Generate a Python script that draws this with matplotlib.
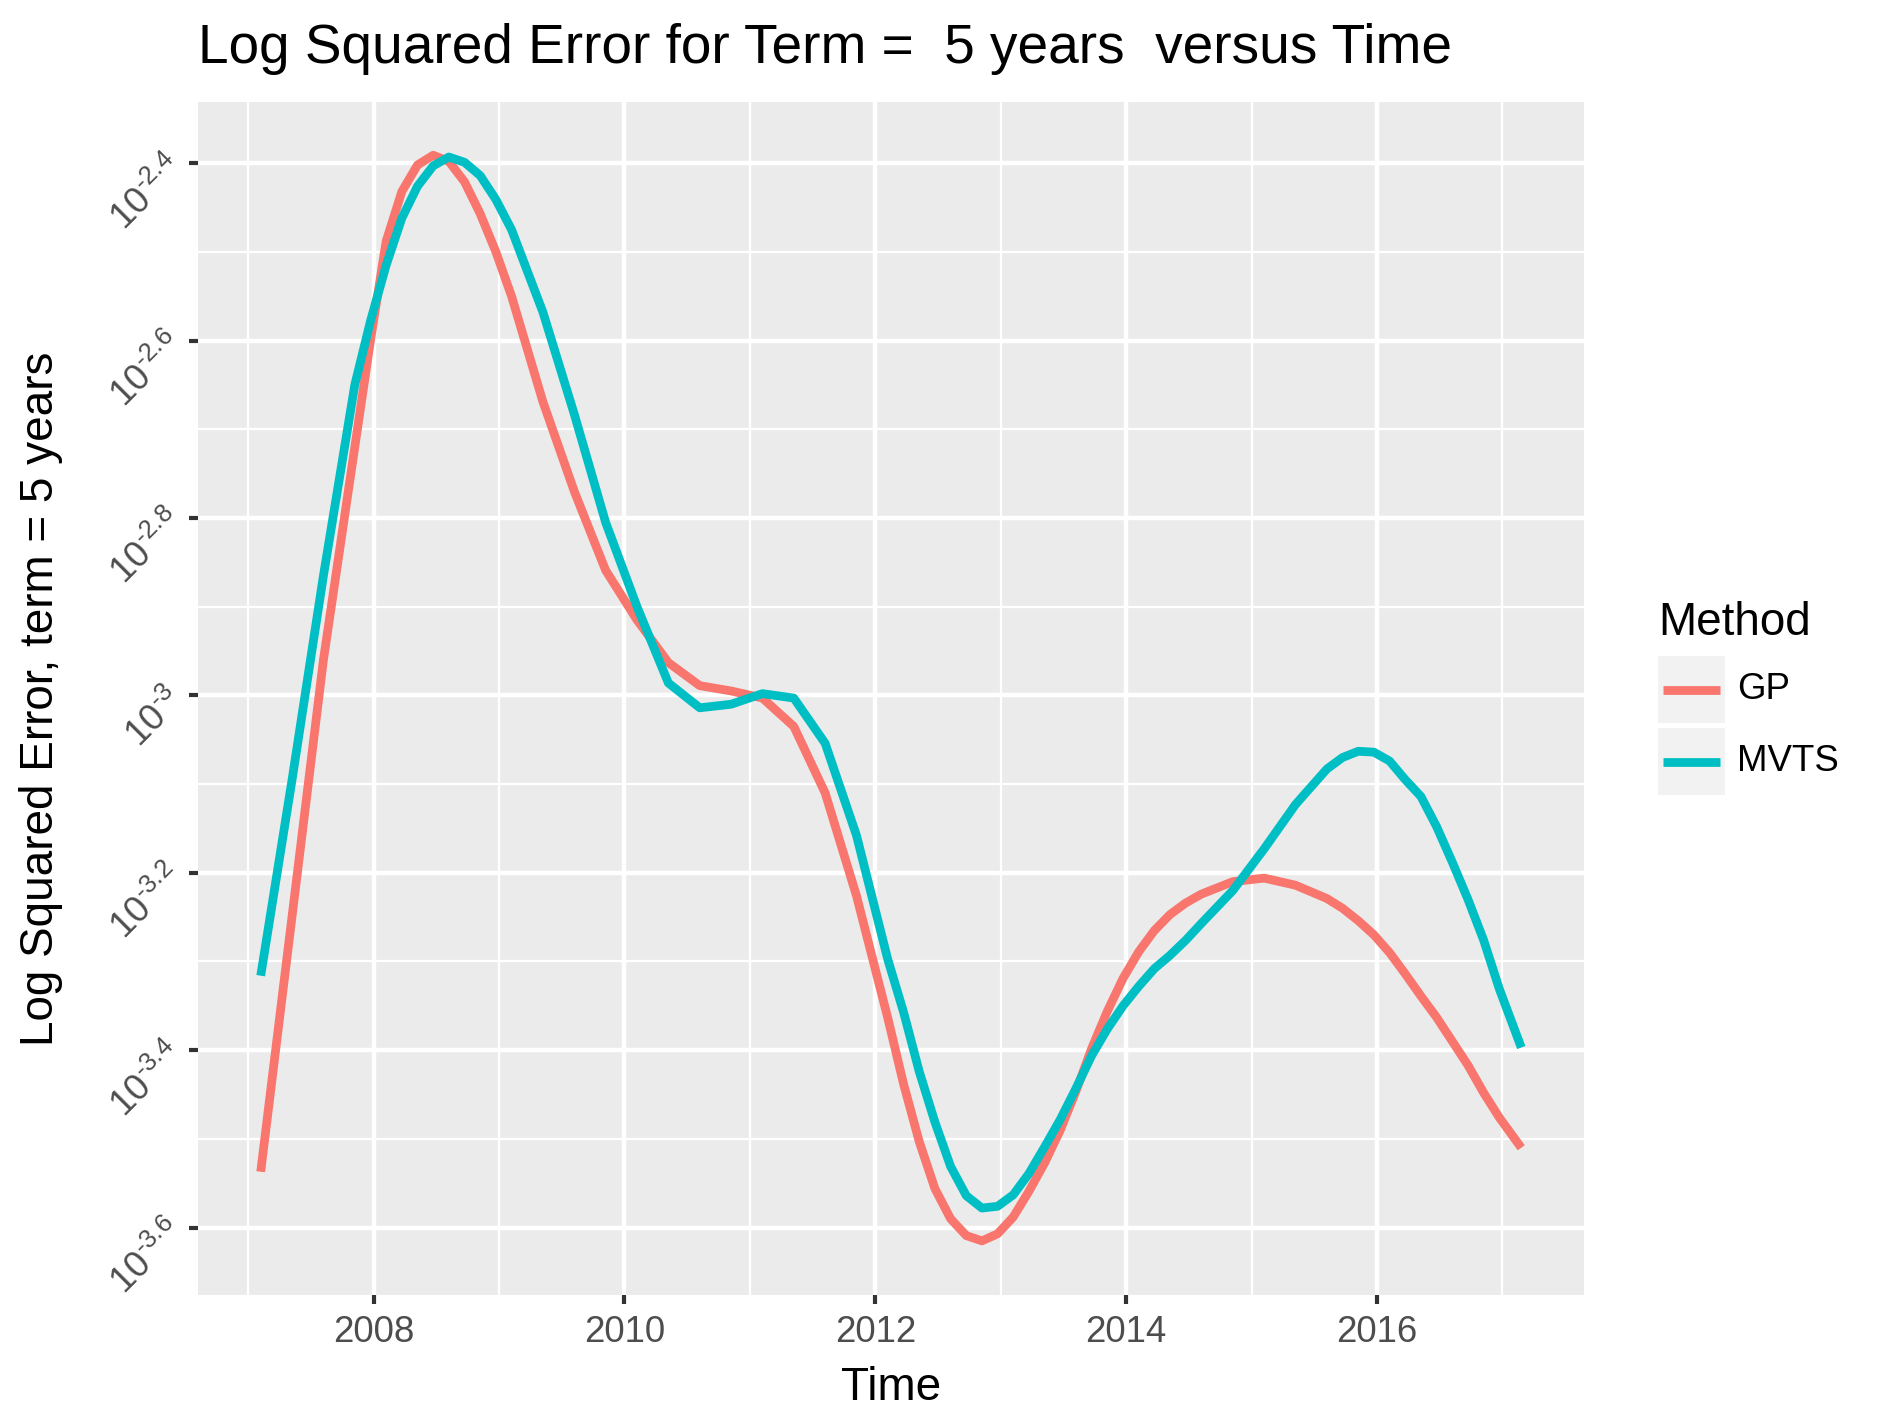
import numpy as np
import matplotlib
matplotlib.use("Agg")
import matplotlib.pyplot as plt
from matplotlib.patches import Rectangle
from matplotlib.lines import Line2D
from matplotlib.ticker import FixedLocator, NullFormatter

# Data (log10 of squared error), denser where the curves bend
time = [2007.1, 2007.35, 2007.6, 2007.85, 2007.975,
        2008.1, 2008.225, 2008.35, 2008.475, 2008.6, 2008.725, 2008.85, 2008.975,
        2009.1, 2009.35, 2009.6, 2009.85,
        2010.1, 2010.35, 2010.6, 2010.85,
        2011.1, 2011.35, 2011.6, 2011.85,
        2012.1, 2012.225, 2012.35, 2012.475, 2012.6, 2012.725, 2012.85, 2012.975,
        2013.1, 2013.225, 2013.35, 2013.475, 2013.6, 2013.725, 2013.85, 2013.975,
        2014.1, 2014.225, 2014.35, 2014.475, 2014.6, 2014.85,
        2015.1, 2015.35, 2015.6, 2015.725, 2015.85, 2015.975,
        2016.1, 2016.225, 2016.35, 2016.475, 2016.6, 2016.725, 2016.85, 2016.975,
        2017.15]
gp_log = [-3.537, -3.249, -2.960, -2.720, -2.600,
          -2.488, -2.432, -2.402, -2.391, -2.398, -2.421, -2.457, -2.500,
          -2.550, -2.669, -2.770, -2.859,
          -2.915, -2.963, -2.989, -2.995,
          -3.003, -3.035, -3.110, -3.226,
          -3.364, -3.438, -3.503, -3.556, -3.590, -3.609, -3.615, -3.607,
          -3.588, -3.559, -3.527, -3.490, -3.446, -3.398, -3.356, -3.319,
          -3.289, -3.265, -3.247, -3.234, -3.224, -3.210,
          -3.206, -3.214, -3.229, -3.240, -3.254, -3.270,
          -3.290, -3.314, -3.339, -3.363, -3.390, -3.417, -3.448, -3.476,
          -3.510]
mvts_log = [-3.316, -3.095, -2.865, -2.650, -2.578,
            -2.515, -2.462, -2.426, -2.403, -2.393, -2.399, -2.414, -2.441,
            -2.475, -2.568, -2.683, -2.805,
            -2.900, -2.986, -3.014, -3.010,
            -2.998, -3.003, -3.054, -3.158,
            -3.298, -3.357, -3.424, -3.481, -3.531, -3.564, -3.578, -3.576,
            -3.563, -3.539, -3.509, -3.478, -3.443, -3.406, -3.376, -3.350,
            -3.328, -3.308, -3.293, -3.276, -3.257, -3.220,
            -3.173, -3.123, -3.083, -3.070, -3.063, -3.064,
            -3.074, -3.095, -3.114, -3.148, -3.188, -3.230, -3.276, -3.331,
            -3.397]

methods = ["GP", "MVTS"]
series = [gp_log, mvts_log]
colors = ["#F8766D", "#00BFC4"]

ytick_exps = [-3.6, -3.4, -3.2, -3.0, -2.8, -2.6, -2.4]
yminor_exps = [-3.5, -3.3, -3.1, -2.9, -2.7, -2.5]
xticks = [2008, 2010, 2012, 2014, 2016]
xminor = [2007, 2009, 2011, 2013, 2015, 2017]

title = "Log Squared Error for Term =  5 years  versus Time"
xlabel = "Time"
ylabel = "Log Squared Error, term = 5 years"
legend_title = "Method"

# ggplot-like look
plt.rcParams["font.family"] = "Liberation Sans"
plt.rcParams["mathtext.fontset"] = "custom"
plt.rcParams["mathtext.rm"] = "Liberation Sans"
plt.rcParams["mathtext.it"] = "Liberation Sans:italic"
plt.rcParams["mathtext.bf"] = "Liberation Sans:bold"

W, H = 1884, 1425
DPI = 300


def fx(px):
    return px / W


def fy(py):
    return 1 - py / H


fig = plt.figure(figsize=(W / DPI, H / DPI), dpi=DPI, facecolor="white")
ax = fig.add_axes([fx(198), fy(1295), fx(1584) - fx(198), fy(102) - fy(1295)])
ax.set_facecolor("#EBEBEB")

for vals, col in zip(series, colors):
    ax.plot(time, 10 ** np.array(vals), color=col, lw=2.1,
            solid_capstyle="butt", solid_joinstyle="round")

ax.set_yscale("log")
ax.set_ylim(10 ** -3.676, 10 ** -2.331)
ax.set_xlim(2006.6, 2017.65)

ax.set_xticks(xticks)
ax.set_xticklabels([str(t) for t in xticks])
ax.xaxis.set_minor_locator(FixedLocator(xminor))

ax.yaxis.set_major_locator(FixedLocator([10 ** e for e in ytick_exps]))
ax.yaxis.set_minor_locator(FixedLocator([10 ** e for e in yminor_exps]))
ax.yaxis.set_minor_formatter(NullFormatter())
ax.set_yticklabels(["$10^{\\text{%g}}$" % e for e in ytick_exps],
                   rotation=45, ha="right", va="center", rotation_mode="anchor")

ax.grid(which="major", color="white", lw=1.07)
ax.grid(which="minor", color="white", lw=0.53)
ax.set_axisbelow(True)
for sp in ax.spines.values():
    sp.set_visible(False)

ax.tick_params(which="major", length=2.2, width=1.0, color="#333333",
               labelsize=8.8, labelcolor="#4D4D4D", pad=2.5)
ax.tick_params(which="minor", length=0)

# titles
fig.text(fx(198), fy(63), title, fontsize=13.2, ha="left", va="baseline")
fig.text(fx(891), fy(1400), xlabel, fontsize=11, ha="center", va="baseline")
fig.text(fx(41), fy(698.5), ylabel, fontsize=11, rotation=90,
         ha="center", va="center")

# legend (ggplot style keys)
fig.text(fx(1658), fy(635), legend_title, fontsize=11, ha="left", va="baseline")
for i, (name, col) in enumerate(zip(methods, colors)):
    top = 656 + i * 72
    fig.add_artist(Rectangle((fx(1658), fy(top + 67)), 67 / W, 67 / H,
                             transform=fig.transFigure, facecolor="#F2F2F2",
                             edgecolor="none"))
    fig.add_artist(Line2D([fx(1663), fx(1720)], [fy(top + 33.5)] * 2,
                          transform=fig.transFigure, color=col, lw=2.1,
                          solid_capstyle="butt"))
    fig.text(fx(1737), fy(top + 33.5), name, fontsize=8.8, ha="left", va="center")

fig.savefig("out.png", dpi=DPI, facecolor="white")
